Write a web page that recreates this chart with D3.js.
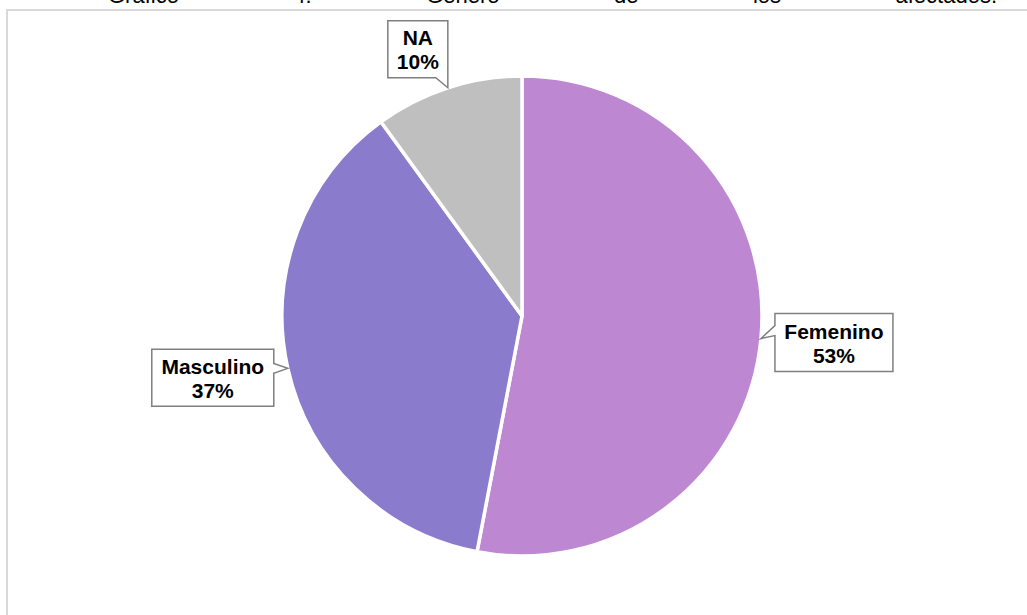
<!DOCTYPE html>
<html>
<head>
<meta charset="utf-8">
<script src="https://cdn.jsdelivr.net/npm/d3@7"></script>
<style>
  body { margin: 0; background: #fff; overflow: hidden; }
  svg { display: block; font-family: "Liberation Sans", Arial, sans-serif; }
</style>
</head>
<body>
<div id="chart"></div>
<script>
const categories = ["Femenino", "Masculino", "NA"];
const values = [53, 37, 10];
const colors = ["#bd87d2", "#8b7bcd", "#bfbfbf"];
const titleWords = ["Gráfico", "4.", "Género", "de", "los", "afectados."];

const width = 1027, height = 615;
const cx = 522, cy = 316, radius = 240;

const svg = d3.select("#chart")
    .append("svg")
    .attr("width", width)
    .attr("height", height);

// caption above the chart, justified and cut off at the top
const titleG = svg.append("g");
const words = titleG.selectAll("text")
    .data(titleWords)
    .enter()
    .append("text")
    .attr("y", 2.5)
    .attr("font-size", 22)
    .attr("fill", "#000")
    .text(d => d);

const wordWidths = words.nodes().map(n => n.getComputedTextLength());
const titleLeft = 108, titleRight = 997;
const gap = (titleRight - titleLeft - d3.sum(wordWidths)) / (titleWords.length - 1);
let xPos = titleLeft;
words.attr("x", (d, i) => {
    const x = xPos;
    xPos += wordWidths[i] + gap;
    return x;
});

// chart area border
svg.append("rect")
    .attr("x", 7)
    .attr("y", 10)
    .attr("width", 1200)
    .attr("height", 800)
    .attr("fill", "#fff")
    .attr("stroke", "#d9d9d9")
    .attr("stroke-width", 2);

const pie = d3.pie().sort(null).value(d => d.value);
const arcs = pie(categories.map((c, i) => ({ name: c, value: values[i], color: colors[i] })));

const arcGen = d3.arc().innerRadius(0).outerRadius(radius);

const pieG = svg.append("g")
    .attr("transform", `translate(${cx},${cy})`);

pieG.selectAll("path")
    .data(arcs)
    .enter()
    .append("path")
    .attr("d", arcGen)
    .attr("fill", d => d.data.color)
    .attr("stroke", "#fff")
    .attr("stroke-width", 3.5)
    .attr("stroke-linejoin", "round");

// callout labels
const labelSize = { Femenino: [118, 58], Masculino: [122, 57], NA: [60, 57] };

function calloutPath(d) {
    const a = (d.startAngle + d.endAngle) / 2;
    const tx = Math.sin(a) * radius, ty = -Math.cos(a) * radius;
    const [w, h] = labelSize[d.data.name];
    let x0, y0, pts;
    if (d.data.name == "Femenino") {
        x0 = tx + 14; y0 = ty - 25;
        pts = [[x0, y0], [x0 + w, y0], [x0 + w, y0 + h], [x0, y0 + h],
               [x0, y0 + 22], [tx, ty], [x0, y0 + 12]];
    } else if (d.data.name == "Masculino") {
        x0 = tx - 14 - w; y0 = ty - 19;
        pts = [[x0, y0], [x0 + w, y0], [x0 + w, y0 + 14], [tx, ty],
               [x0 + w, y0 + 24], [x0 + w, y0 + h], [x0, y0 + h]];
    } else {
        x0 = tx - w; y0 = ty - 10 - h;
        pts = [[x0, y0], [x0 + w, y0], [x0 + w, y0 + h], [tx, ty],
               [x0 + w - 12, y0 + h], [x0, y0 + h]];
    }
    return { pts: pts, x: x0 + w / 2, y: y0 + h / 2 };
}

const labels = svg.append("g")
    .attr("transform", `translate(${cx},${cy})`)
    .selectAll("g")
    .data(arcs)
    .enter()
    .append("g");

labels.append("path")
    .attr("d", d => d3.line()(calloutPath(d).pts) + "Z")
    .attr("fill", "#fff")
    .attr("stroke", "#7f7f7f")
    .attr("stroke-width", 1.5);

labels.append("text")
    .attr("x", d => calloutPath(d).x)
    .attr("y", d => calloutPath(d).y - 4)
    .attr("text-anchor", "middle")
    .attr("font-size", 21)
    .attr("font-weight", "bold")
    .attr("fill", "#000")
    .text(d => d.data.name);

labels.append("text")
    .attr("x", d => calloutPath(d).x)
    .attr("y", d => calloutPath(d).y + 20)
    .attr("text-anchor", "middle")
    .attr("font-size", 21)
    .attr("font-weight", "bold")
    .attr("fill", "#000")
    .text(d => d.data.value + "%");
</script>
</body>
</html>
